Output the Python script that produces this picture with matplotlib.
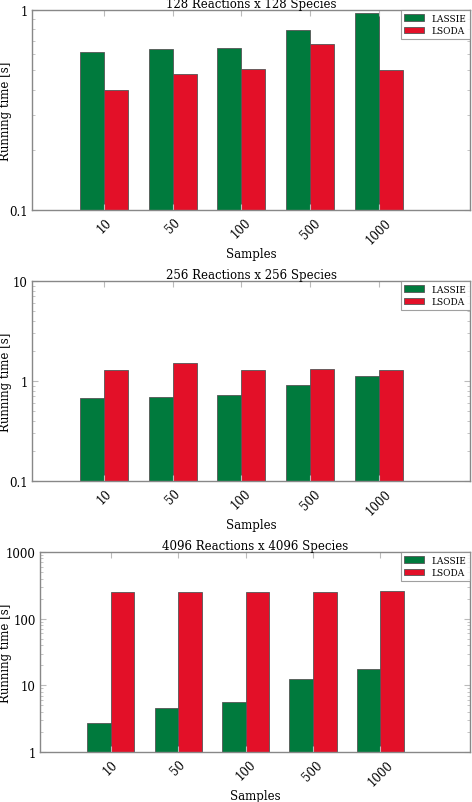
import matplotlib
matplotlib.use('Agg')
import matplotlib.pyplot as plt
from matplotlib.ticker import NullFormatter
import numpy as np

samples = ['10', '50', '100', '500', '1000']

titles = ['128 Reactions x 128 Species',
          '256 Reactions x 256 Species',
          '4096 Reactions x 4096 Species']

lassie = [[0.617, 0.639, 0.646, 0.792, 0.962],
          [0.672, 0.698, 0.731, 0.905, 1.121],
          [2.72, 4.57, 5.62, 12.4, 17.4]]

lsoda = [[0.396, 0.476, 0.509, 0.679, 0.502],
         [1.277, 1.50, 1.297, 1.327, 1.277],
         [254, 251, 254, 254, 260]]

ylims = [(0.1, 1), (0.1, 10), (1, 1000)]
yticklabels = [['0.1', '1'], ['0.1', '1', '10'], ['1', '10', '100', '1000']]

plt.rcParams['font.family'] = 'DejaVu Serif'
plt.rcParams['font.size'] = 8

W, H = 472, 803
fig = plt.figure(figsize=(W / 100, H / 100), dpi=100)

# axes boxes in pixels: left, top, right, bottom
boxes = [(32, 11, 470, 211), (32, 282, 470, 482), (40, 553, 470, 753)]

green = '#007a3d'
red = '#e31028'
width = 0.35
ind = np.arange(len(samples))

for i in range(3):
    l, t, r, b = boxes[i]
    ax = fig.add_axes([l / W, 1 - b / H, (r - l) / W, (b - t) / H])
    ax.bar(ind, lassie[i], width, color=green, edgecolor='#555555',
           linewidth=0.6, align='edge', label='LASSIE')
    ax.bar(ind + width, lsoda[i], width, color=red, edgecolor='#555555',
           linewidth=0.6, align='edge', label='LSODA')
    ax.set_yscale('log')
    ax.set_ylim(*ylims[i])
    ax.set_xlim(-0.7, 5.68)
    ticks = [10 ** k for k in range(int(np.log10(ylims[i][0])), int(np.log10(ylims[i][1])) + 1)]
    ax.set_yticks(ticks)
    ax.set_yticklabels(yticklabels[i], fontsize=8.5)
    ax.yaxis.set_minor_formatter(NullFormatter())
    ax.set_xticks(ind + width)
    ax.set_xticklabels(samples, rotation=45, fontsize=8.5)
    ax.tick_params(axis='both', which='both', direction='in', color='#bbbbbb',
                   top=True, right=True)
    ax.tick_params(axis='y', which='major', length=4, pad=3)
    ax.tick_params(axis='y', which='minor', length=2)
    ax.tick_params(axis='x', length=4, pad=4)
    for s in ax.spines.values():
        s.set_color('#888888')
        s.set_linewidth(1.0)
    ax.set_title(titles[i], fontsize=8.5, pad=1)
    ax.set_xlabel('Samples', fontsize=8.5)
    ax.xaxis.set_label_coords(0.5, -37 / (b - t))
    ax.set_ylabel('Running time [s]', fontsize=8.5)
    ax.yaxis.set_label_coords(-(l - 12) / (r - l), 0.5)
    leg = ax.legend(loc='upper right', fontsize=6.5, borderaxespad=0,
                    fancybox=False, handlelength=2.2, borderpad=0.4,
                    labelspacing=0.4)
    leg.get_frame().set_edgecolor('#888888')
    leg.get_frame().set_linewidth(0.8)

fig.savefig('out.png', dpi=100, facecolor='white')
